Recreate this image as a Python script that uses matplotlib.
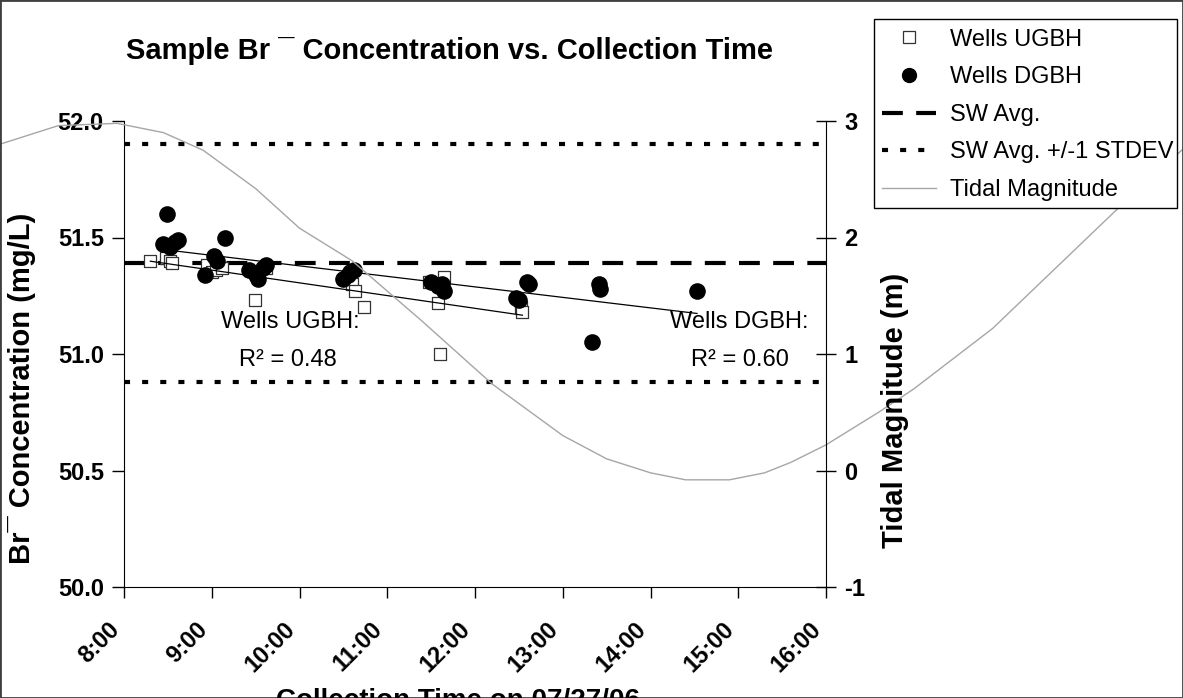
import numpy as np
import matplotlib
matplotlib.use("Agg")
import matplotlib.pyplot as plt
from matplotlib.lines import Line2D
from matplotlib.patches import Rectangle

plt.rcParams['font.family'] = ['Liberation Sans', 'DejaVu Sans']
plt.rcParams['axes.unicode_minus'] = False

# collection time (decimal hours) and Br- concentration (mg/L)
ugbh_time = [8.30, 8.48, 8.52, 8.55, 8.95, 9.00, 9.05, 9.12, 9.49, 9.62,
             10.60, 10.63, 10.73, 11.48, 11.58, 11.60, 11.65, 12.52, 12.54]
ugbh_br = [51.40, 51.41, 51.40, 51.39, 51.38, 51.35, 51.36, 51.37, 51.23, 51.37,
           51.30, 51.27, 51.20, 51.31, 51.22, 51.00, 51.33, 51.20, 51.18]

dgbh_time = [8.45, 8.49, 8.52, 8.58, 8.62, 8.92, 9.03, 9.06, 9.15,
             9.42, 9.50, 9.53, 9.58, 9.62, 10.50, 10.55, 10.58, 10.62,
             11.50, 11.58, 11.62, 11.65, 12.47, 12.50, 12.59, 12.62,
             13.33, 13.41, 13.43, 14.53]
dgbh_br = [51.47, 51.60, 51.46, 51.48, 51.49, 51.34, 51.42, 51.40, 51.50,
           51.36, 51.34, 51.32, 51.37, 51.38, 51.32, 51.34, 51.35, 51.36,
           51.31, 51.29, 51.30, 51.27, 51.24, 51.23, 51.31, 51.30,
           51.05, 51.30, 51.28, 51.27]

sw_avg = 51.39
sw_std = 0.51

# tide (m) over the day
tide_time = [6.5, 7.25, 7.92, 8.45, 8.9, 9.5, 10.0, 10.6, 11.4, 12.2, 13.0, 13.5,
             14.0, 14.4, 14.9, 15.3, 15.6, 16.0, 16.6, 17.0, 17.9, 19.3, 20.2]
tide_m = [2.78, 2.96, 2.98, 2.90, 2.75, 2.42, 2.08, 1.80, 1.28, 0.74, 0.30, 0.10,
          -0.02, -0.08, -0.08, -0.02, 0.07, 0.22, 0.50, 0.70, 1.22, 2.23, 2.85]

hour_ticks = [8, 9, 10, 11, 12, 13, 14, 15, 16]
hour_labels = ["8:00", "9:00", "10:00", "11:00", "12:00", "13:00", "14:00", "15:00", "16:00"]
br_ticks = [50.0, 50.5, 51.0, 51.5, 52.0]
tide_ticks = [-1, 0, 1, 2, 3]

W, H = 1183, 698
fig = plt.figure(figsize=(W / 100, H / 100), dpi=100)
ax = fig.add_axes([124 / W, 1 - 587 / H, 702 / W, 466 / H])
ax2 = ax.twinx()

dash = (0, (5, 3.2))
dots = (0, (1.45, 2.9))

ax.scatter(ugbh_time, ugbh_br, marker='s', s=75, facecolor='white',
           edgecolor='#333333', linewidth=0.9, zorder=3)
ax.scatter(dgbh_time, dgbh_br, marker='o', s=120, color='black', zorder=4)

# linear trendlines
for t, v in [(ugbh_time, ugbh_br), (dgbh_time, dgbh_br)]:
    k, b = np.polyfit(t, v, 1)
    xs = np.array([min(t), max(t)])
    ax.plot(xs, k * xs + b, color='black', lw=0.9, zorder=5)

ax.axhline(sw_avg, color='black', lw=3, ls=dash, dash_capstyle='butt', zorder=2)
ax.axhline(sw_avg + sw_std, color='black', lw=3, ls=dots, dash_capstyle='butt', zorder=2)
ax.axhline(sw_avg - sw_std, color='black', lw=3, ls=dots, dash_capstyle='butt', zorder=2)

ax2.plot(tide_time, tide_m, color='#a6a6a6', lw=1, clip_on=False, zorder=2)

ax.set_xlim(8, 16)
ax.set_ylim(50, 52)
ax2.set_ylim(-1, 3)
ax.set_xticks(hour_ticks)
ax.set_xticklabels(hour_labels, rotation=45, ha='right', fontweight='bold', fontsize=17)
ax.set_yticks(br_ticks)
ax.set_yticklabels([f"{v:.1f}" for v in br_ticks], fontweight='bold', fontsize=17)
ax2.set_yticks(tide_ticks)
ax2.set_yticklabels([str(v) for v in tide_ticks], fontweight='bold', fontsize=17)

ax.tick_params(axis='x', direction='out', length=8, width=1, pad=14)
ax.tick_params(axis='y', direction='out', length=9, width=1, pad=5.5)
ax2.tick_params(axis='y', direction='inout', length=14, width=1, pad=6)

for a in (ax, ax2):
    a.spines['top'].set_visible(False)
    a.patch.set_visible(False)
ax2.spines['left'].set_visible(False)
ax2.spines['bottom'].set_visible(False)
ax.spines['right'].set_visible(False)

# annotations
ax.text(9.89, 51.137, "Wells UGBH:", ha='center', va='center', fontsize=17)
ax.text(9.87, 50.974, "R² = 0.48", ha='center', va='center', fontsize=17)
ax.text(15.01, 51.137, "Wells DGBH:", ha='center', va='center', fontsize=17)
ax.text(15.02, 50.974, "R² = 0.60", ha='center', va='center', fontsize=17)

fig.text(450 / W, 1 - 51 / H, "Sample Br ¯ Concentration vs. Collection Time",
         ha='center', va='center', fontsize=21, fontweight='bold')
fig.text(22 / W, 1 - 388 / H, "Br¯ Concentration (mg/L)", rotation=90,
         ha='center', va='center', fontsize=21, fontweight='bold')
fig.text(895 / W, 1 - 410 / H, "Tidal Magnitude (m)", rotation=90,
         ha='center', va='center', fontsize=21, fontweight='bold')
fig.text(458 / W, -10 / H, "Collection Time on 07/27/06", ha='center',
         va='baseline', fontsize=20, fontweight='bold')

# legend box (fixed size like the original)
ax2.add_patch(Rectangle((874 / W, 1 - 208 / H), 303 / W, 189 / H, transform=fig.transFigure,
                        facecolor='white', edgecolor='black', lw=1, zorder=4.5, clip_on=False))
handles = [
    Line2D([], [], ls='none', marker='s', ms=8, mfc='white', mec='#333333', mew=0.9),
    Line2D([], [], ls='none', marker='o', ms=10, color='black'),
    Line2D([], [], color='black', lw=3, ls=dash, dash_capstyle='butt'),
    Line2D([], [], color='black', lw=3, ls=dots, dash_capstyle='butt'),
    Line2D([], [], color='#a6a6a6', lw=1),
]
labels = ["Wells UGBH", "Wells DGBH", "SW Avg.", "SW Avg. +/-1 STDEV", "Tidal Magnitude"]
leg = ax2.legend(handles, labels, loc='upper left', bbox_to_anchor=(877 / W, 1 - 24 / H),
                 bbox_transform=fig.transFigure, frameon=False, fontsize=17,
                 handlelength=2.3, handletextpad=0.6, labelspacing=0.66,
                 borderpad=0.2, borderaxespad=0)
leg.set_zorder(5)

fig.patches.append(Rectangle((0, 0), 1, 1, transform=fig.transFigure, fill=False,
                             edgecolor='#404040', lw=2))

fig.savefig("out.png", dpi=100)
